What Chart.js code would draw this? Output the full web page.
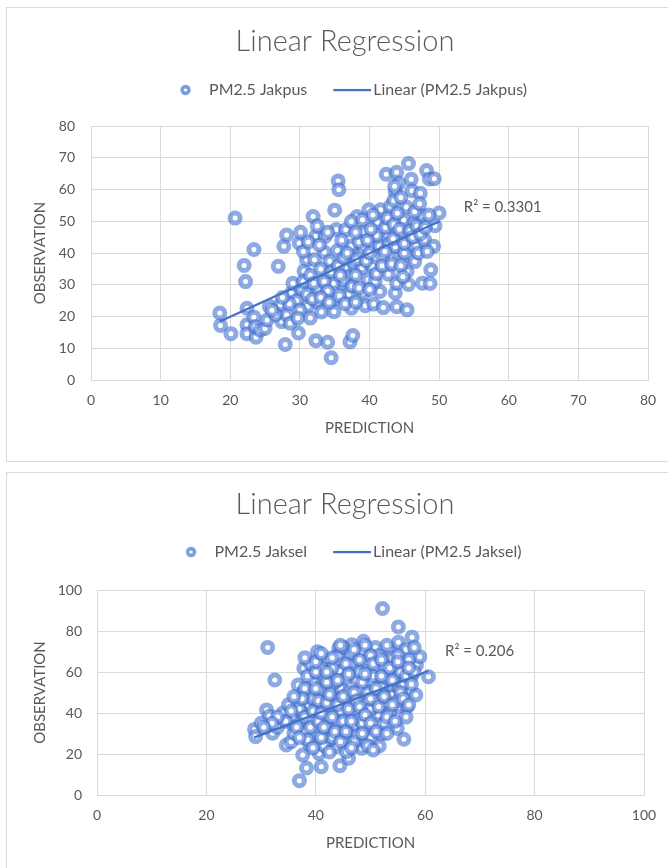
<!DOCTYPE html>
<html><head><meta charset="utf-8">
<script src="https://cdn.jsdelivr.net/npm/chart.js@4.4.0/dist/chart.umd.min.js"></script>
<style>
html,body{margin:0;padding:0;background:#fff;width:668px;height:868px;overflow:hidden;}
.box{position:absolute;border:1px solid #d9d9d9;background:#fff;}
#b1{left:6px;top:7px;width:700px;height:453px;}
#b2{left:6px;top:472px;width:700px;height:420px;}
canvas{position:absolute;}
#c1{left:0;top:0;}
#c2{left:0;top:464px;}
</style></head><body>
<div class="box" id="b1"></div><div class="box" id="b2"></div>
<canvas id="c1" width="690" height="460" style="width:690px;height:460px"></canvas>
<canvas id="c2" width="690" height="404" style="width:690px;height:404px"></canvas>
<script>
// ---------- DATA ----------
const chartTitle = 'Linear Regression';
const xAxisTitle = 'PREDICTION';
const yAxisTitle = 'OBSERVATION';

// Chart 1: PM2.5 Jakpus
const jakpusName = 'PM2.5 Jakpus';
const jakpusTrendName = 'Linear (PM2.5 Jakpus)';
const jakpusR2 = 'R\u00B2 = 0.3301';
const jakpusTicks = [0, 10, 20, 30, 40, 50, 60, 70, 80];
const jakpusPrediction = [
18.5,18.6,20.1,20.7,22.0,22.2,22.4,22.4,22.4,23.4,
23.4,23.7,23.6,24.3,25.0,25.3,25.6,26.9,27.2,27.4,
27.9,27.7,28.1,28.1,28.6,28.8,29.0,29.8,29.9,30.1,
30.3,30.6,31.0,31.1,31.5,31.9,32.1,32.3,32.5,32.5,
32.3,32.6,33.1,33.5,33.8,34.0,34.3,34.5,35.0,35.0,
34.9,35.4,35.5,35.6,35.2,36.0,36.5,36.6,36.9,37.2,
37.6,37.4,37.4,37.8,38.2,38.7,38.9,39.1,39.1,39.4,
39.8,39.9,40.2,40.4,40.6,41.1,41.6,41.4,41.5,41.9,
42.0,42.4,42.6,42.7,43.0,43.7,43.9,43.7,43.9,44.1,
43.9,44.9,45.3,45.5,45.4,45.4,45.6,45.6,45.8,46.0,
46.1,46.4,46.7,46.5,47.3,47.6,47.6,47.9,48.2,48.6,
48.7,48.8,49.2,49.4,49.3,50.0,33.6,44.6,41.0,37.4,
39.1,42.8,44.6,36.2,34.8,43.7,45.0,
30.5,31.5,31.0,32.0,33.0,33.5,34.0,34.5,35.5,35.8,
36.3,36.8,37.0,37.5,38.0,38.2,38.5,39.5,39.7,40.0,
40.2,40.8,41.0,41.8,42.2,42.3,42.6,43.2,43.4,43.5,
44.0,44.3,44.5,44.8,45.0,45.8,46.2,46.8,47.0,47.3,
48.0,48.3,48.5,29.5,30.0,28.5,29.7,31.8,33.0,34.2,
35.7,36.5,38.0,38.5,40.0,26.5,27.5,26.0,30.5,31.2,
32.8,34.0,36.0,38.0,39.0,40.5,43.5,44.5,46.5,47.2,
44.2,43.6];
const jakpusObservation = [
21.1,17.2,14.6,51.0,36.1,31.0,22.6,17.4,14.6,41.1,
19.8,13.5,16.8,15.7,16.2,18.9,23.2,35.8,23.7,18.4,
11.2,42.1,45.7,20.5,17.9,27.4,30.5,14.8,43.1,46.5,
28.4,34.3,37.9,23.2,19.5,51.5,37.9,45.3,48.5,28.9,
12.4,24.4,21.4,40.3,33.9,11.9,37.4,7.0,53.5,25.4,
21.5,40.8,62.7,59.9,47.4,30.5,35.3,47.3,32.6,12.0,
14.0,22.6,42.1,36.8,51.5,40.0,35.3,27.4,46.7,23.4,
31.6,53.6,42.1,35.8,23.9,49.7,53.6,42.1,27.9,38.9,
22.8,64.8,45.3,33.3,54.7,27.4,65.4,59.2,30.5,40.0,
23.1,50.4,54.5,45.3,34.2,22.1,68.2,30.1,38.9,63.2,
59.6,49.4,42.2,37.3,58.8,51.8,30.5,44.2,66.0,63.3,
30.4,34.7,42.1,48.6,63.4,52.6,45.1,46.2,45.5,49.9,
42.0,43.0,41.2,31.5,30.4,42.0,40.0,
31,33,27,30.5,35,31,28,34,36,33,
38.5,40,27,29.5,33,38,43.5,37.5,44,40,
47.5,31,33.5,36,40.5,48,51,36.5,44.5,49,
52.5,47.5,36,32.5,43,47,45,48.5,40,46,
48,40.5,52,25,22,24,19.5,25.5,26,24.5,
26.5,24,24.5,29,28.5,20.5,26,22,40.5,43.5,
42.5,46.5,44,46.5,50.5,52,56.5,57.5,53,55.5,
62,61];
const jakpusTrendX = [18.5, 50.1];
const jakpusTrendY = [18.4, 50.0];

// Chart 2: PM2.5 Jaksel
const jakselName = 'PM2.5 Jaksel';
const jakselTrendName = 'Linear (PM2.5 Jaksel)';
const jakselR2 = 'R\u00B2 = 0.206';
const jakselTicks = [0, 20, 40, 60, 80, 100];
const jakselPrediction = [
28.8,29.0,31.2,31.0,31.5,32.5,32.1,33.5,34.6,35.5,
36.8,37.0,37.6,37.8,38.3,38.5,39.5,40.3,40.6,41.0,
41.5,42.1,42.3,42.9,43.7,44.2,44.4,44.6,45.0,45.6,
45.8,46.0,46.6,47.0,47.2,47.4,48.1,48.4,48.7,48.9,
49.1,50.1,50.9,51.1,51.5,51.6,52.0,52.2,52.4,53.6,
54.0,54.8,54.9,55.1,55.1,55.2,56.1,56.2,56.7,57.1,
57.6,58.3,58.4,59.0,60.6,56.5,44.4,47.5,53.6,45.6,
38.9,35.9,43.9,55.2,40.8,37.7,
36,37,38,39,39.5,40,40.5,41,41.5,42,
42.5,43,43,43.5,44,44.5,45,45.5,46,46,
46.5,47,47.5,48,48,48.5,49,49.5,49.5,50,
50,50.5,51,51.5,52,52.5,52.5,53,53,53.5,
54,54.5,55,55.5,56,56.5,57,57.5,58,36.5,
38,39,41,42,44,45,46.5,49,50,38.5,
40,41.5,43,44.5,47.5,48.5,36,37.5,34,35,
33,30,
36.5,37,37.5,38,38.5,39,39.5,40,40.5,40.5,
41,41,41.5,42,42,42.5,43,43,43.5,44,
44,44.5,45,45,45.5,45.5,46,46,46.5,47,
47,47.5,48,48,48.5,48.5,49,49,49.5,50,
50,50.5,51,51,51.5,52,52,52.5,53,53,
53.5,54,54,54.5,55,55.5,56,56.5,57,57.5,
58,37,39.5,42.5,46.5,50.5,34.5,35.5,36,33,
32,30.5,38,40,41,44.5,47,53,55,57];
const jakselObservation = [
32.0,28.5,72.0,41.5,38.4,56.1,30.1,35.8,24.4,26.0,
53.7,7.0,19.5,61.8,13.2,43.1,55.3,69.9,20.3,13.8,
51.2,33.5,65.9,51.2,23.6,71.7,14.3,52.0,61.0,26.8,
67.3,17.9,73.3,33.3,62.4,41.0,51.2,22.8,75.0,45.2,
26.0,55.3,72.0,61.8,39.0,23.9,29.8,91.0,49.1,70.7,
49.1,61.8,32.5,82.0,74.5,43.1,27.2,64.2,43.1,51.2,
77.0,48.8,63.4,67.5,57.7,71,60.5,68.3,53.7,21.1,
24.4,34.1,32.5,52,51.2,49.6,
38,35,31,37,47,41,29,45,58,38,
27,44,62,55,36,47,40,57,30,50,
64,44,56,37,60,70,33,50,65,42,
28,58,46,68,53,35,63,44,57,40,
67,57,46,60,54,38,66,58,72,45,
52,64,62,55,68,72,69,73,68,58,
60,24,28,41,29,35,30,40,40,44,
33,35,
33,42,47,38,27,33,41,52,46,36,
28,40,33,45,60,49,38,67,31,56,
44,26,36,48,64,31,42,59,36,50,
26,46,43,66,55,30,39,59,24,47,
35,64,52,31,43,58,66,48,38,30,
62,44,56,36,68,50,47,58,44,54,
60,28,23,21,23,22,36,41,48,38,
35,33,67,65,69,73,71,73,65,62];
const jakselTrendX = [28.7, 60.6];
const jakselTrendY = [28.0, 60.5];

// ---------- STYLE ----------
const TEXT = '#595959';
const GRID = '#d9d9d9';
const RING = 'rgba(72,118,210,0.62)';
const RING_LEGEND = '#7c9cd9';
const TREND = '#4472c4';
const FONT = 'Lato, "Open Sans", sans-serif';

function ringImage() {
  const c = document.createElement('canvas'); c.width = 38; c.height = 12;
  const g = c.getContext('2d');
  g.beginPath(); g.arc(22.5, 6, 3.4, 0, Math.PI * 2);
  g.lineWidth = 3.6; g.strokeStyle = RING_LEGEND; g.stroke();
  return c;
}
function lineImage() {
  const c = document.createElement('canvas'); c.width = 50; c.height = 4;
  const g = c.getContext('2d');
  g.beginPath(); g.moveTo(12, 2); g.lineTo(50, 2);
  g.lineWidth = 2.25; g.strokeStyle = TREND; g.stroke();
  return c;
}

const r2Plugin = {
  id: 'r2label',
  afterDatasetsDraw(chart, args, o) {
    const ctx = chart.ctx;
    const px = chart.scales.x.getPixelForValue(o.x) + o.dx;
    const py = chart.scales.y.getPixelForValue(o.y) + o.dy;
    ctx.save();
    ctx.font = '15px ' + FONT;
    ctx.fillStyle = TEXT;
    ctx.textAlign = 'left';
    ctx.textBaseline = 'middle';
    ctx.fillText(o.text, px, py);
    ctx.restore();
  }
};

function makeChart(canvasId, s) {
  const pts = s.xs.map((x, i) => ({ x: x, y: s.ys[i] }));
  const trend = s.tx.map((x, i) => ({ x: x, y: s.ty[i] }));
  const ring = ringImage(), line = lineImage();
  return new Chart(document.getElementById(canvasId), {
    type: 'scatter',
    data: {
      datasets: [
        { label: s.name, data: pts, order: 2, pointStyle: 'circle', pointRadius: 5,
          pointBorderWidth: 5, borderColor: RING, backgroundColor: '#ffffff',
          pointBackgroundColor: '#ffffff', pointBorderColor: RING },
        { label: s.trendName, data: trend, order: 1, showLine: true, pointRadius: 0,
          borderColor: TREND, borderWidth: 2.25, backgroundColor: TREND }
      ]
    },
    options: {
      responsive: false, animation: false, events: [],
      layout: { padding: { left: 6, right: 6, top: 0, bottom: s.padBottom } },
      plugins: {
        tooltip: { enabled: false },
        title: { display: true, text: chartTitle, color: TEXT,
          font: { family: FONT, size: 29, weight: 300 },
          padding: { top: s.titleTop, bottom: s.titleBottom } },
        legend: { display: true, position: 'top',
          labels: { usePointStyle: true, pointStyleWidth: 38, padding: 20, color: TEXT,
            font: { family: FONT, size: 16 },
            generateLabels: () => [
              { text: s.name, pointStyle: ring, fillStyle: 'transparent', strokeStyle: 'transparent', lineWidth: 0, hidden: false, datasetIndex: 0, fontColor: TEXT },
              { text: s.trendName, pointStyle: line, fillStyle: 'transparent', strokeStyle: 'transparent', lineWidth: 0, hidden: false, datasetIndex: 1, fontColor: TEXT }
            ] } },
        r2label: { text: s.r2, x: s.tx[1], y: s.ty[1], dx: s.r2dx, dy: s.r2dy }
      },
      scales: {
        x: { type: 'linear', position: 'bottom', min: s.ticks[0], max: s.ticks[s.ticks.length - 1],
          ticks: { stepSize: s.ticks[1] - s.ticks[0], padding: 12, color: TEXT, font: { family: FONT, size: 14 } },
          grid: { color: GRID, lineWidth: 1, drawTicks: false },
          border: { color: GRID, width: 1 },
          title: { display: true, text: xAxisTitle, color: TEXT, font: { family: FONT, size: 15 }, padding: { top: 0, bottom: 3 } },
          afterFit(sc) { sc.height = 60; } },
        y: { type: 'linear', position: 'left', min: s.ticks[0], max: s.ticks[s.ticks.length - 1],
          ticks: { stepSize: s.ticks[1] - s.ticks[0], padding: s.yPad, color: TEXT, font: { family: FONT, size: 14 } },
          grid: { color: GRID, lineWidth: 1, drawTicks: false },
          border: { color: GRID, width: 1 },
          title: { display: true, text: yAxisTitle, color: TEXT, font: { family: FONT, size: 15 }, padding: { top: s.yTitlePad, bottom: 0 } },
          afterFit(sc) { sc.width = s.yWidth; } },
        xTop: { type: 'linear', position: 'top', display: true, grid: { display: false }, border: { display: false },
          ticks: { display: false }, afterFit(sc) { sc.height = s.topGap; } },
        yRight: { type: 'linear', position: 'right', display: true, grid: { display: false }, border: { display: false },
          ticks: { display: false }, afterFit(sc) { sc.width = s.rightGap; } }
      }
    },
    plugins: [r2Plugin]
  });
}

function draw() {
  makeChart('c1', { xs: jakpusPrediction, ys: jakpusObservation, tx: jakpusTrendX, ty: jakpusTrendY,
    name: jakpusName, trendName: jakpusTrendName, r2: jakpusR2, ticks: jakpusTicks,
    padBottom: 20, titleTop: 24.6, titleBottom: 2.5, topGap: 18.1, yWidth: 85, rightGap: 36,
    yPad: 16, yTitlePad: 25, r2dx: 24, r2dy: -14 });
  makeChart('c2', { xs: jakselPrediction, ys: jakselObservation, tx: jakselTrendX, ty: jakselTrendY,
    name: jakselName, trendName: jakselTrendName, r2: jakselR2, ticks: jakselTicks,
    padBottom: 13, titleTop: 23.6, titleBottom: 1.6, topGap: 20, yWidth: 91, rightGap: 40,
    yPad: 15, yTitlePad: 25.5, r2dx: 16.5, r2dy: -20 });
}
Promise.all([
  document.fonts.load('300 29px Lato'),
  document.fonts.load('16px Lato'),
  document.fonts.load('14px Lato')
]).then(draw, draw);
</script>
</body></html>
